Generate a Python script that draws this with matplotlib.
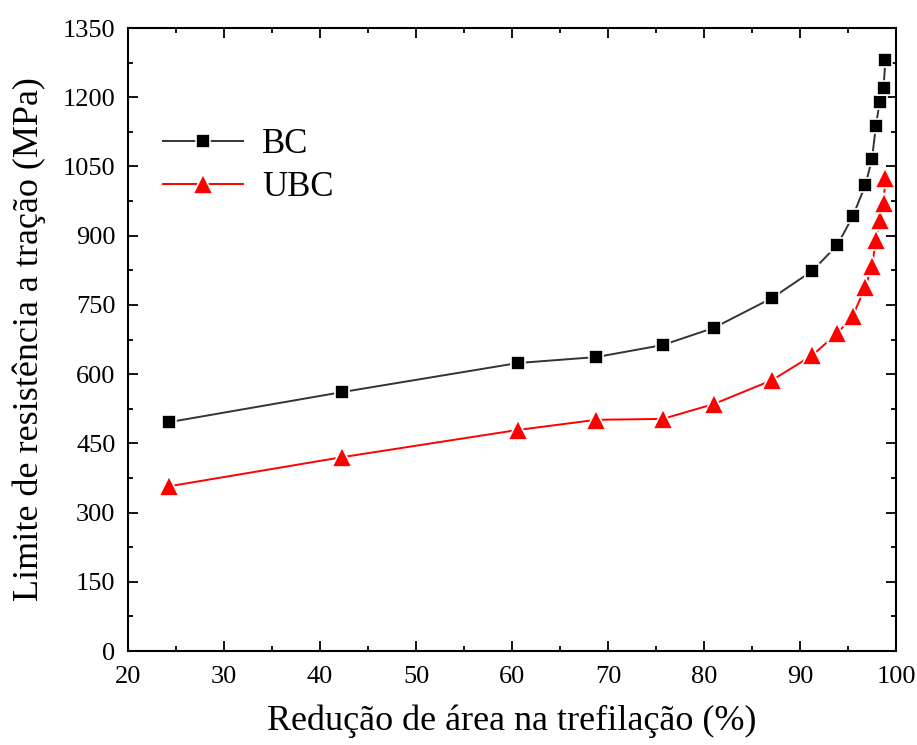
import matplotlib.pyplot as plt
from matplotlib.ticker import MultipleLocator

plt.rcParams['font.family'] = ['Liberation Serif', 'DejaVu Serif']

# area reduction (%) and tensile strength (MPa)
reducao = [24.3, 42.3, 60.6, 68.8, 75.7, 81.0, 87.1, 91.3, 93.9, 95.5,
           96.8, 97.5, 97.9, 98.3, 98.7, 98.9]
bc = [496, 561, 624, 637, 663, 700, 765, 824, 880, 942,
      1009, 1066, 1137, 1190, 1220, 1281]
ubc = [357, 420, 479, 501, 503, 535, 587, 641, 689, 726,
       789, 834, 890, 934, 971, 1025]

fig = plt.figure(figsize=(9.17, 7.45), dpi=100)
ax = fig.add_axes([128/917, 1-651/745, (896-128)/917, (651-28)/745])

ax.plot(reducao, bc, '-s', color='#333333', lw=1.4, ms=10, mfc='black',
        mec='white', mew=1.2, label='BC')
ax.plot(reducao, ubc, '-^', color='red', lw=1.4, ms=14, mfc='red',
        mec='white', mew=1.2, label='UBC')

ax.set_xlim(20, 100)
ax.set_ylim(0, 1350)
ax.xaxis.set_major_locator(MultipleLocator(10))
ax.xaxis.set_minor_locator(MultipleLocator(5))
ax.yaxis.set_major_locator(MultipleLocator(150))
ax.yaxis.set_minor_locator(MultipleLocator(75))
ax.tick_params(which='both', direction='in', top=True, right=True,
               labelsize=19, width=1.3)
ax.tick_params(which='major', length=7)
ax.tick_params(which='minor', length=3.5)
ax.tick_params(axis='x', pad=11)
ax.tick_params(axis='y', pad=9)
for s in ax.spines.values():
    s.set_linewidth(1.5)

ax.set_xlabel('Redução de área na trefilação (%)', fontsize=26, labelpad=12)
ax.set_ylabel('Limite de resistência a tração (MPa)', fontsize=26, labelpad=12)

ax.legend(loc='upper left', bbox_to_anchor=(0.005, 0.89), frameon=False,
          fontsize=25, handlelength=2.3, labelspacing=0.3, handletextpad=0.55)

fig.savefig('out.png', dpi=100)
